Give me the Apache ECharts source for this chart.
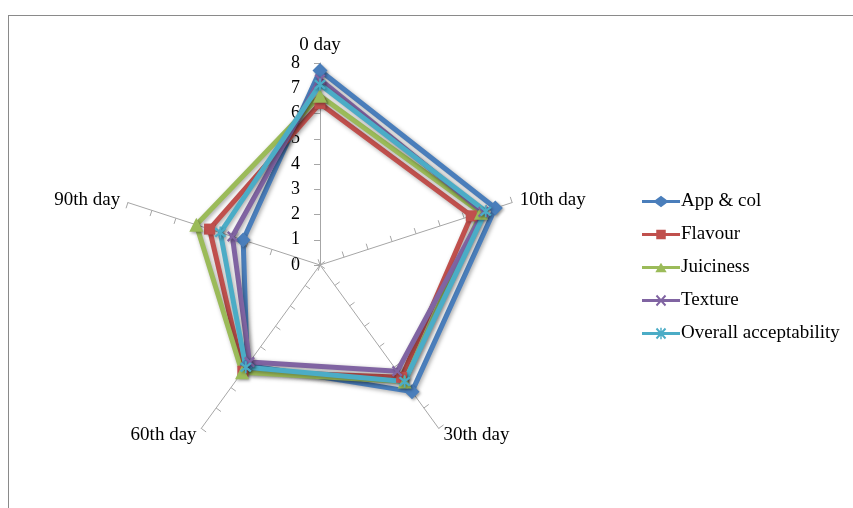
<!DOCTYPE html>
<html>
<head>
<meta charset="utf-8">
<script src="https://cdn.jsdelivr.net/npm/echarts@6/dist/echarts.min.js"></script>
<style>
html,body{margin:0;padding:0;background:#fff;}
#frame{position:absolute;left:8px;top:15px;width:845px;height:493px;border-top:1.5px solid #8a8a8a;border-left:1.5px solid #8a8a8a;}
#chart{position:absolute;left:0;top:0;width:853px;height:508px;}
</style>
</head>
<body>
<div id="frame"></div>
<div id="chart"></div>
<script>
// Axes in clockwise order starting at top
const days = ['0 day', '10th day', '30th day', '60th day', '90th day'];
const tickLabels = ['0','1','2','3','4','5','6','7','8'];
const seriesNames = ['App & col', 'Flavour', 'Juiciness', 'Texture', 'Overall acceptability'];
const appCol      = [7.7, 7.3, 6.2, 4.9, 3.2];
const flavour     = [6.4, 6.3, 5.5, 5.2, 4.6];
const juiciness   = [6.7, 6.7, 5.7, 5.25, 5.15];
const texture     = [7.35, 6.8, 5.2, 4.75, 3.65];
const overall     = [7.15, 6.9, 5.7, 5.0, 4.15];
const colors = ['#4A7EBB', '#C0504D', '#9BBB59', '#8064A2', '#4BACC6'];

const FONT = 'Liberation Serif';
const values = [appCol, flavour, juiciness, texture, overall];

// ECharts places indicators counter-clockwise; reorder so that they appear clockwise
const order = [0, 4, 3, 2, 1];
const axisMax = tickLabels.length - 1;

const indicators = order.map(function (i, k) {
  const ind = { name: days[i], min: 0, max: axisMax };
  if (k === 0) {
    ind.axisLabel = { show: true, color: '#000', fontFamily: FONT, fontSize: 18, margin: 20,
      formatter: function (v) { return tickLabels[Math.round(v)] || ''; } };
  }
  return ind;
});

const xPath = 'path://M1,2.5L2.5,1L11,9.5L9.5,11ZM9.5,1L11,2.5L2.5,11L1,9.5Z';
const starPath = 'path://M1,2.5L2.5,1L11,9.5L9.5,11ZM9.5,1L11,2.5L2.5,11L1,9.5ZM5.25,0H6.75V12H5.25Z';
const symbols = ['diamond', 'rect', 'triangle', xPath, starPath];
const symSizes = [15, 11, 14, 11, 12];

const legendIcons = [
  'path://M0,4.5H14L20,0L26,4.5H40V7.5H26L20,12L14,7.5H0Z',
  'path://M0,4.5H15V1H25V4.5H40V7.5H25V11H15V7.5H0Z',
  'path://M0,4.5H40V7.5H0ZM14,11L20,1L26,11Z',
  'path://M0,4.5H40V7.5H0ZM14.5,1.5L16,0L25.5,10.5L24,12ZM24,0L25.5,1.5L16,12L14.5,10.5Z',
  'path://M0,4.5H40V7.5H0ZM14.5,1.5L16,0L25.5,10.5L24,12ZM24,0L25.5,1.5L16,12L14.5,10.5ZM19.25,0H20.75V12H19.25Z'
];

const seriesData = values.map(function (arr, s) {
  return {
    name: seriesNames[s],
    value: order.map(function (i) { return arr[i]; }),
    symbol: symbols[s],
    symbolSize: symSizes[s],
    itemStyle: { color: colors[s], shadowBlur: 3, shadowColor: 'rgba(0,0,0,0.35)', shadowOffsetX: 1.5, shadowOffsetY: 1.5 },
    lineStyle: { color: colors[s], width: 5, shadowBlur: 4, shadowColor: 'rgba(0,0,0,0.35)', shadowOffsetX: 1.5, shadowOffsetY: 1.5 }
  };
});

const chart = echarts.init(document.getElementById('chart'), null, { renderer: 'canvas' });
chart.setOption({
  animation: false,
  backgroundColor: 'transparent',
  color: colors,
  legend: {
    orient: 'vertical',
    left: 637,
    top: 187,
    itemWidth: 38,
    itemHeight: 12,
    itemGap: 14,
    textStyle: { color: '#000', fontFamily: FONT, fontSize: 19, padding: [0, 0, 0, -4] },
    data: seriesNames.map(function (n, s) { return { name: n, icon: legendIcons[s], itemStyle: { color: colors[s] } }; })
  },
  radar: {
    center: [320, 265],
    radius: 202,
    startAngle: 90,
    shape: 'polygon',
    splitNumber: axisMax,
    indicator: indicators,
    axisName: { color: '#000', fontFamily: FONT, fontSize: 19 },
    nameGap: 8,
    axisLine: { show: true, lineStyle: { color: '#A6A6A6', width: 1 } },
    axisTick: { show: true, length: 6, lineStyle: { color: '#A6A6A6', width: 1 } },
    axisLabel: { show: false },
    splitLine: { show: false },
    splitArea: { show: false }
  },
  series: [{
    type: 'radar',
    data: seriesData
  }]
});
</script>
</body>
</html>
